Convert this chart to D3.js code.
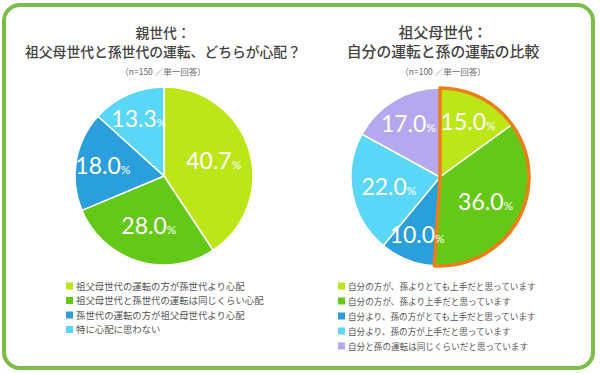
<!DOCTYPE html>
<html>
<head>
<meta charset="utf-8">
<script src="https://cdn.jsdelivr.net/npm/d3@7"></script>
<style>
  body { margin: 0; background: #fff; }
  svg { display: block; }
  .title { font-family: "Noto Sans CJK JP", sans-serif; font-weight: 500; fill: #444; }
  .sub { font-family: "Noto Sans CJK JP", sans-serif; fill: #666; }
  .legend text { font-family: "Noto Sans CJK JP", sans-serif; fill: #555; }
  .pct { font-family: Lato, "Noto Sans", sans-serif; fill: #fff; }
</style>
</head>
<body>
<div id="chart"></div>
<script>
var svgWidth = 600;
var svgHeight = 374;

// left chart: parent generation
var leftCategories = [
  "祖父母世代の運転の方が孫世代より心配",
  "祖父母世代と孫世代の運転は同じくらい心配",
  "孫世代の運転の方が祖父母世代より心配",
  "特に心配に思わない"
];
var leftValues = [40.7, 28.0, 18.0, 13.3];
var leftTitle = ["親世代：", "祖父母世代と孫世代の運転、どちらが心配？"];
var leftNote = "（n=150 ／単一回答）";

// right chart: grandparent generation
var rightCategories = [
  "自分の方が、孫よりとても上手だと思っています",
  "自分の方が、孫より上手だと思っています",
  "自分より、孫の方がとても上手だと思っています",
  "自分より、孫の方が上手だと思っています",
  "自分と孫の運転は同じくらいだと思っています"
];
var rightValues = [15.0, 36.0, 10.0, 22.0, 17.0];
var rightTitle = ["祖父母世代：", "自分の運転と孫の運転の比較"];
var rightNote = "（n=100 ／単一回答）";
// slices wrapped by the orange outline
var rightHighlight = [0, 1];

var colors = ["#bde619", "#63c916", "#2b9fdc", "#5ad6f7", "#b6a8ef"];

var svg = d3.select("#chart")
  .append("svg")
  .attr("width", svgWidth)
  .attr("height", svgHeight);

// green frame
svg.append("rect")
  .attr("x", 4)
  .attr("y", 5)
  .attr("width", 589)
  .attr("height", 363)
  .attr("rx", 16)
  .attr("fill", "#fff")
  .attr("stroke", "#7bbd46")
  .attr("stroke-width", 4);

function drawPie(opts) {
  var g = svg.append("g");
  var radius = 89;

  // titles
  g.selectAll(".title")
    .data(opts.title)
    .enter()
    .append("text")
    .attr("class", "title")
    .attr("x", opts.titleX)
    .attr("y", (d, i) => 38 + i * 19)
    .attr("text-anchor", "middle")
    .attr("font-size", opts.titleSize)
    .text(d => d);

  g.append("text")
    .attr("class", "sub")
    .attr("x", opts.titleX)
    .attr("y", 75)
    .attr("text-anchor", "middle")
    .attr("font-size", 8.5)
    .text(opts.note);

  var pie = d3.pie().sort(null).value(d => d);
  var arcs = pie(opts.values);
  var arc = d3.arc().innerRadius(0).outerRadius(radius);

  var pieGroup = g.append("g")
    .attr("transform", `translate(${opts.cx}, ${opts.cy})`);

  pieGroup.selectAll("path.slice")
    .data(arcs)
    .enter()
    .append("path")
    .attr("class", "slice")
    .attr("d", arc)
    .attr("fill", (d, i) => colors[i])
    .attr("stroke", "#fff")
    .attr("stroke-width", 1.5);

  if (opts.highlight) {
    var hl = opts.highlight.map(i => arcs[i]);
    var outline = d3.arc().innerRadius(0).outerRadius(radius)
      .startAngle(d3.min(hl, d => d.startAngle))
      .endAngle(d3.max(hl, d => d.endAngle));
    pieGroup.append("path")
      .attr("d", outline())
      .attr("fill", "none")
      .attr("stroke", "#ee7d17")
      .attr("stroke-width", 3.5)
      .attr("stroke-linejoin", "round");
  }

  // percentage labels, small slices pushed out a bit
  var labels = pieGroup.selectAll("text.pct")
    .data(arcs)
    .enter()
    .append("text")
    .attr("class", "pct")
    .attr("text-anchor", "middle")
    .attr("transform", function(d) {
      var r = d.value >= 20 ? 52 : 62;
      var a = (d.startAngle + d.endAngle) / 2;
      return `translate(${Math.sin(a) * r}, ${-Math.cos(a) * r + 8})`;
    });
  labels.append("tspan")
    .attr("font-size", 23)
    .text(d => d.value.toFixed(1));
  labels.append("tspan")
    .attr("font-size", 12)
    .text("%");

  // legend
  var legend = g.append("g")
    .attr("class", "legend")
    .attr("transform", `translate(${opts.legendX}, ${opts.legendY})`);

  var rows = legend.selectAll("g")
    .data(opts.categories)
    .enter()
    .append("g")
    .attr("transform", (d, i) => `translate(0, ${i * opts.legendStep})`);

  rows.append("rect")
    .attr("x", 0)
    .attr("y", -3.5)
    .attr("width", 7)
    .attr("height", 7)
    .attr("fill", (d, i) => colors[i]);

  rows.append("text")
    .attr("x", 10)
    .attr("y", 3.5)
    .attr("font-size", opts.legendSize)
    .text(d => d);
}

drawPie({
  title: leftTitle, note: leftNote, titleX: 163, titleSize: 13.8,
  values: leftValues, categories: leftCategories,
  cx: 164, cy: 176,
  legendX: 66, legendY: 286, legendStep: 14.5, legendSize: 9.4
});

drawPie({
  title: rightTitle, note: rightNote, titleX: 443, titleSize: 14.8,
  values: rightValues, categories: rightCategories, highlight: rightHighlight,
  cx: 440, cy: 177,
  legendX: 338, legendY: 286, legendStep: 15, legendSize: 8.6
});
</script>
</body>
</html>
